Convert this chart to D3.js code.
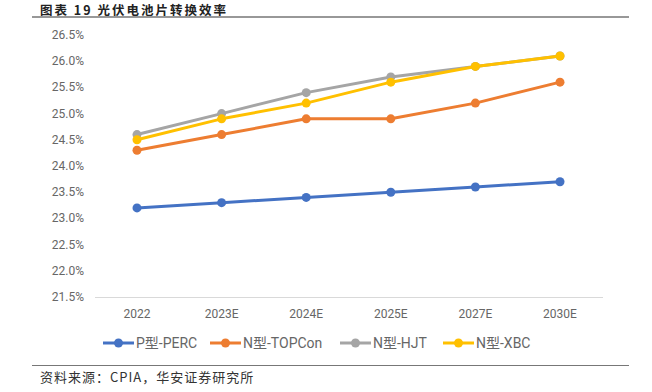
<!DOCTYPE html>
<html>
<head>
<meta charset="utf-8">
<script src="https://cdn.jsdelivr.net/npm/d3@7"></script>
<style>
  body { margin: 0; background: #fff; }
  svg { display: block; }
</style>
</head>
<body>
<svg class="chart"></svg>
<script>
const years = ['2022', '2023E', '2024E', '2025E', '2027E', '2030E'];
const perc = [23.2, 23.3, 23.4, 23.5, 23.6, 23.7];
const topcon = [24.3, 24.6, 24.9, 24.9, 25.2, 25.6];
const hjt = [24.6, 25.0, 25.4, 25.7, 25.9, 26.1];
const xbc = [24.5, 24.9, 25.2, 25.6, 25.9, 26.1];
const yTicks = [21.5, 22, 22.5, 23, 23.5, 24, 24.5, 25, 25.5, 26, 26.5];

const seriesList = [
  { name: 'P型-PERC', values: perc, color: '#4472c4' },
  { name: 'N型-TOPCon', values: topcon, color: '#ed7d31' },
  { name: 'N型-HJT', values: hjt, color: '#a5a5a5' },
  { name: 'N型-XBC', values: xbc, color: '#ffc000' },
];

const width = 652;
const height = 392;
const svg = d3.select('.chart').attr('width', width).attr('height', height);

// title
svg.append('text')
  .attr('x', 40).attr('y', 14.5)
  .style('font-family', '"Noto Sans CJK SC"')
  .style('font-weight', 'bold')
  .style('font-size', '12.5px')
  .style('letter-spacing', '2px')
  .style('fill', '#222')
  .text('图表 19 光伏电池片转换效率');
svg.append('line')
  .attr('x1', 32).attr('x2', 629).attr('y1', 17).attr('y2', 17)
  .style('stroke', '#333').style('stroke-width', 1.2);

const x = d3.scalePoint().domain(years).range([137, 560]);
const y = d3.scaleLinear().domain([21.5, 26.5]).range([297, 35]);

// y labels
svg.selectAll('.ytick')
  .data(yTicks)
  .enter()
  .append('text')
  .attr('x', 84)
  .attr('y', d => y(d) + 4)
  .attr('text-anchor', 'end')
  .style('font-family', 'Roboto, "Noto Sans"')
  .style('font-size', '12px')
  .style('fill', '#666')
  .text(d => `${d.toFixed(1)}%`);

// x axis line
svg.append('line')
  .attr('x1', 95).attr('x2', 603).attr('y1', 297.5).attr('y2', 297.5)
  .style('stroke', '#d9d9d9');

svg.selectAll('.xtick')
  .data(years)
  .enter()
  .append('text')
  .attr('x', d => x(d))
  .attr('y', 318)
  .attr('text-anchor', 'middle')
  .style('font-family', 'Roboto, "Noto Sans"')
  .style('font-size', '12px')
  .style('fill', '#666')
  .text(d => d);

const line = d3.line()
  .x((d, i) => x(years[i]))
  .y(d => y(d));

seriesList.forEach((s) => {
  svg.append('path')
    .datum(s.values)
    .attr('d', line)
    .style('fill', 'none')
    .style('stroke', s.color)
    .style('stroke-width', 3)
    .style('stroke-linejoin', 'round');
  svg.selectAll(null)
    .data(s.values)
    .enter()
    .append('circle')
    .attr('cx', (d, i) => x(years[i]))
    .attr('cy', d => y(d))
    .attr('r', 4.5)
    .style('fill', s.color);
});

// legend
const legendX = [103, 210, 340, 443];
const legend = svg.selectAll('.legend')
  .data(seriesList)
  .enter()
  .append('g')
  .attr('transform', (d, i) => `translate(${legendX[i]},343)`);
legend.append('line')
  .attr('x1', 0).attr('x2', 31)
  .style('stroke', d => d.color)
  .style('stroke-width', 3);
legend.append('circle')
  .attr('cx', 15.5).attr('r', 4.5)
  .style('fill', d => d.color);
legend.append('text')
  .attr('x', 33).attr('y', 5)
  .style('font-family', 'Roboto, "Noto Sans CJK SC"')
  .style('font-size', '14px')
  .style('fill', '#666')
  .text(d => d.name);

// footer
svg.append('line')
  .attr('x1', 32).attr('x2', 629).attr('y1', 365.5).attr('y2', 365.5)
  .style('stroke', '#777').style('stroke-width', 1);
svg.append('text')
  .attr('x', 40).attr('y', 382)
  .style('font-family', '"Noto Sans CJK SC"')
  .style('font-size', '13px')
  .style('letter-spacing', '1px')
  .style('fill', '#333')
  .text('资料来源：CPIA，华安证券研究所');
</script>
</body>
</html>
